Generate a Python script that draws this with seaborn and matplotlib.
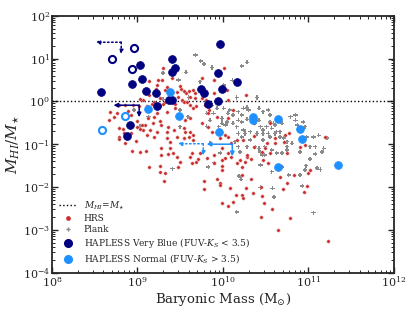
import numpy as np
import pandas as pd
import matplotlib
matplotlib.use("Agg")
import matplotlib.pyplot as plt
from matplotlib.lines import Line2D
import seaborn as sns

# log10 baryonic mass and log10 (M_HI / M_star)
hrs_logm = [9.13, 9.24, 9.29, 9.23, 9.34, 9.22, 9.14, 9.57, 9.51, 9.65, 9.62, 9.48, 9.26, 9.07, 9.17,
            9.32, 9.11, 9.02, 8.85, 8.95, 8.68, 8.76, 8.89, 8.93, 8.67, 8.91, 8.78, 9.00, 9.09, 9.07,
            8.93, 8.84, 8.78, 8.86, 9.11, 9.19, 9.23, 9.28, 9.36, 9.43, 9.54, 9.62, 9.60, 9.65, 9.34,
            9.28, 9.38, 8.94, 9.03, 9.36, 9.46, 9.61, 9.73,
            8.78, 8.72, 8.99, 9.05, 9.18, 9.26, 9.03, 9.15, 8.83, 8.78, 8.98, 9.10, 9.27, 9.26, 9.14,
            9.23, 9.12, 9.19, 9.26,
            9.32, 9.48, 9.31, 9.64, 9.71, 9.78, 9.78,
            9.99, 9.99, 9.93, 9.97, 9.97, 10.08, 9.99, 10.06, 10.12, 10.15, 10.22, 10.24, 10.27, 10.33,
            10.35, 10.44, 10.46, 10.48, 10.45, 10.57, 10.64, 10.67, 10.70, 10.75, 10.79, 10.98, 10.95,
            11.00, 11.23, 10.03, 10.10, 10.16, 10.20, 10.26, 10.28, 10.33, 10.46, 10.47, 10.53, 10.55,
            10.75,
            10.01, 9.89, 9.90, 10.27, 9.75, 9.80, 9.84, 9.79, 9.93, 10.06, 10.12, 9.83, 9.87, 10.03,
            9.97, 10.06, 10.10, 9.99, 10.06, 10.28, 10.61, 10.73, 10.90, 11.19, 10.36, 10.24, 10.16,
            9.30, 9.44, 9.41, 9.76, 9.32, 9.46, 9.50, 9.54, 9.60, 9.67, 9.52, 9.54, 9.58, 9.67, 9.62,
            9.69, 10.05, 10.06, 9.26, 9.44, 9.44, 9.19,
            9.30, 9.35, 9.34, 9.56, 9.62, 9.65, 9.83, 9.75, 9.56, 9.65, 9.54, 9.46, 9.38, 9.42, 9.64,
            9.89, 9.99, 9.89, 9.50, 9.69, 9.81, 10.22,
            10.36, 10.55, 10.77, 10.71, 10.51, 10.49, 10.61, 10.96, 11.02, 10.83, 10.36, 10.22, 9.03]
hrs_logr = [0.48, 0.50, 0.51, 0.38, 0.34, 0.28, 0.16, 0.19, 0.28, 0.27, 0.11, 0.11, 0.07, 0.03, -0.05,
            -0.01, -0.12, -0.12, -0.09, -0.09, -0.24, -0.28, -0.23, -0.33, -0.44, -0.55, -0.62, -0.59,
            -0.55, -0.67, -0.75, -0.75, -0.83, -0.97, -0.79, -0.83, -0.71, -0.55, -0.59, -0.67, -0.63,
            -0.71, -0.83, -0.90, -0.86, -1.10, -1.10, -1.15, -1.18, -1.24, -1.29, -1.29, -1.21,
            -0.09, -0.36, -0.45, -0.55, -0.51, -0.45, -0.65, -0.67, -0.65, -0.89, -0.92, -1.16, -1.25,
            -1.50, -1.53, -0.28, -0.40, -0.36, -1.64,
            -1.67, -1.54, -1.87, -1.43, -1.35, -1.87, -2.04,
            -1.51, -1.60, -1.81, -1.91, -1.95, -2.03, -2.38, -2.44, -2.34, -2.19, -2.19, -2.25, -2.03,
            -1.81, -2.13, -1.99, -2.21, -2.37, -2.69, -2.51, -3.00, -1.77, -2.05, -1.90, -2.73, -1.98,
            -2.12, -1.68, -3.27, -1.33, -1.31, -1.45, -1.37, -1.41, -1.29, -1.35, -1.18, -1.37, -1.45,
            -1.21, -1.20,
            0.79, 0.50, 0.20, 0.16, 0.07, 0.03, -0.20, -0.09, -0.36, -0.40, -0.20, -0.59, -0.71, -0.79,
            -0.86, -0.83, -0.98, -1.10, -1.21, -1.25, -0.86, -0.79, -1.06, -0.83, -0.81, -0.90, -0.90,
            0.79, 0.80, 0.54, 0.54, 0.27, 0.23, 0.36, 0.24, 0.25, 0.19, 0.03, -0.02, -0.01, 0.07, -0.09,
            -0.11, 0.27, 0.03, -0.09, -0.05, -0.16, -0.01,
            -0.05, -0.26, -0.71, -0.44, -0.40, -0.16, -0.28, -0.51, -0.71, -0.79, -0.86, -0.83, -0.94,
            -1.21, -1.21, -1.25, -1.37, -1.45, -1.41, -1.41, -1.33, -1.72,
            -0.51, -0.51, -0.75, -0.94, -0.98, -1.10, -0.98, -1.02, -1.60, -1.72, -1.06, -1.53, 0.05]

plank_logm = [9.68, 9.74, 9.48, 9.73, 9.30, 9.30, 9.60, 8.96, 9.13, 9.03, 9.50, 9.50, 9.59, 9.81, 9.81,
              9.78, 9.57, 9.87, 10.22, 10.28, 10.11, 10.01, 10.16, 10.28, 10.40, 9.41,
              10.01, 10.08, 10.12, 10.18, 10.22, 10.28, 10.42, 10.47, 10.53, 10.55, 10.44, 10.51, 10.57,
              10.67, 10.79, 10.85, 10.87, 10.96, 11.06, 11.12, 11.18, 11.02, 10.90, 10.71, 10.63, 10.55,
              10.47, 10.40, 10.32, 10.24, 10.16, 10.12, 10.05, 9.99, 9.95, 9.85, 9.89, 10.32, 10.38,
              10.28, 10.20, 10.44, 10.49, 10.57, 10.63, 10.75, 10.81, 10.55, 10.61,
              9.87, 9.93, 10.06, 10.18, 10.22, 9.99, 10.03, 10.18, 10.22, 10.14, 10.18, 9.97, 9.83, 9.85,
              10.24, 10.30, 10.42, 10.59, 10.69, 10.94, 10.85, 10.98, 11.22, 11.16, 11.08, 10.75, 10.67,
              10.61, 10.53, 10.47, 10.38, 10.26, 10.47, 10.42, 10.75, 10.44, 10.57, 10.77, 10.96, 11.10,
              10.90, 10.69,
              9.90, 10.19, 10.21, 10.16, 10.49, 10.58, 10.60, 10.97, 11.02, 11.06, 11.14, 11.08, 10.69,
              10.46, 10.93, 10.44]
plank_logr = [1.08, 0.94, 0.50, 0.46, 0.66, 0.05, 0.09, -0.20, -0.36, -0.58, -0.59, -0.20, -0.36, -0.28,
              -0.58, 0.87, 0.68, 0.79, 0.83, 0.91, 0.49, 0.38, 0.09, -0.14, 0.09, -1.57,
              -0.16, -0.20, -0.32, -0.24, -0.32, -0.42, -0.44, -0.24, -0.20, -0.32, -0.59, -0.59, -0.63,
              -0.71, -0.36, -0.32, -0.55, -0.59, -0.83, -0.79, -1.10, -1.06, -1.18, -0.86, -0.71, -0.83,
              -0.75, -0.75, -0.71, -0.67, -0.59, -0.51, -0.48, -0.51, -0.59, -0.44, -0.28, -0.90, -1.06,
              -1.06, -1.18, -1.18, -1.06, -1.14, -1.21, -1.06, -0.98, -0.48, -0.55,
              -0.09, -0.16, -0.28, -0.44, -0.48, -0.40, -0.55, -0.75, -0.83, -0.94, -1.06, -1.21, -1.53,
              -0.98, -0.16, -0.20, -0.16, -0.51, -0.51, -0.48, -0.44, -0.83, -0.86, -1.18, -1.06, -0.94,
              -0.83, -0.75, -0.75, -0.67, -0.51, -0.75, -0.90, -1.10, -1.14, -1.49, -1.64, -1.72, -1.60,
              -1.56, -1.72, -1.53,
              -1.43, -1.74, -1.82, -2.58, -1.25, -2.03, -2.23, -1.50, -1.35, -2.60, -1.59, -1.23, -1.21,
              -1.25, -1.98, -2.01]

# HAPLESS very blue (FUV-Ks < 3.5)
vblue_logm = [8.57, 9.40, 9.03, 9.44, 9.40, 9.05, 8.94, 9.10, 9.22, 9.74, 9.78, 9.37, 9.40, 9.82,
              9.23, 8.91, 8.88, 9.97, 9.94, 10.16, 9.99, 9.94]
vblue_logr = [0.21, 1.00, 0.84, 0.78, 0.69, 0.52, 0.40, 0.25, 0.20, 0.30, 0.19, 0.03, 0.03, -0.05,
              -0.12, -0.56, -0.81, 1.33, 0.66, 0.46, 0.29, 0.02]
vblue_open_logm = [8.96, 8.70, 8.94]
vblue_open_logr = [1.25, 0.98, 0.76]

# HAPLESS normal (FUV-Ks > 3.5)
normal_logm = [9.38, 9.12, 9.49, 10.35, 10.35, 10.64, 10.90, 10.92, 9.95, 10.64, 11.35]
normal_logr = [0.23, -0.19, -0.35, -0.37, -0.44, -0.42, -0.64, -0.88, -0.71, -1.54, -1.49]
normal_open_logm = [8.85, 8.59]
normal_open_logr = [-0.35, -0.67]

# limit arrows: start point, colour, solid or dotted
arrow_logm = [8.81, 9.02, 9.77, 10.11]
arrow_logr = [1.38, -0.09, -0.99, -1.00]
arrow_color = ["navy", "navy", "dodgerblue", "dodgerblue"]
arrow_ls = [":", "-", ":", "-"]

sns.set_style("ticks")
plt.rcParams["font.family"] = ["DejaVu Serif"]
plt.rcParams["mathtext.fontset"] = "dejavuserif"
plt.rcParams["xtick.direction"] = "in"
plt.rcParams["ytick.direction"] = "in"

hrs = pd.DataFrame({"mass": 10 ** np.array(hrs_logm), "ratio": 10 ** np.array(hrs_logr)})
plank = pd.DataFrame({"mass": 10 ** np.array(plank_logm), "ratio": 10 ** np.array(plank_logr)})
vblue = pd.DataFrame({"mass": 10 ** np.array(vblue_logm), "ratio": 10 ** np.array(vblue_logr)})
normal = pd.DataFrame({"mass": 10 ** np.array(normal_logm), "ratio": 10 ** np.array(normal_logr)})
vblue_open = pd.DataFrame({"mass": 10 ** np.array(vblue_open_logm), "ratio": 10 ** np.array(vblue_open_logr)})
normal_open = pd.DataFrame({"mass": 10 ** np.array(normal_open_logm), "ratio": 10 ** np.array(normal_open_logr)})

fig = plt.figure(figsize=(4.15, 3.12), dpi=100)
ax = fig.add_axes([0.1253, 0.126, 0.8237, 0.8237])

ax.axhline(1, color="black", ls=":", lw=1, zorder=1)

sns.scatterplot(data=plank, x="mass", y="ratio", ax=ax, marker="P", s=9, color="#8a8a8a",
                edgecolor="none", legend=False, zorder=2)
sns.scatterplot(data=hrs, x="mass", y="ratio", ax=ax, marker="o", s=6, color="#c83030",
                edgecolor="#f0c0c0", linewidth=0.3, legend=False, zorder=3)
sns.scatterplot(data=vblue, x="mass", y="ratio", ax=ax, marker="o", s=32, color="navy",
                edgecolor="navy", linewidth=0.5, legend=False, zorder=5)
sns.scatterplot(data=normal, x="mass", y="ratio", ax=ax, marker="o", s=32, color="dodgerblue",
                edgecolor="dodgerblue", linewidth=0.5, legend=False, zorder=5)
sns.scatterplot(data=vblue_open, x="mass", y="ratio", ax=ax, marker="o", s=26, color="white",
                edgecolor="navy", linewidth=1.5, legend=False, zorder=5)
sns.scatterplot(data=normal_open, x="mass", y="ratio", ax=ax, marker="o", s=26, color="white",
                edgecolor="dodgerblue", linewidth=1.5, legend=False, zorder=5)

# upper-limit arrows (left in mass, down in ratio)
for lm, lr, c, ls in zip(arrow_logm, arrow_logr, arrow_color, arrow_ls):
    props = dict(arrowstyle="-|>", color=c, ls=ls, lw=1.1, mutation_scale=6,
                 shrinkA=0, shrinkB=0)
    ax.annotate("", xy=(10 ** (lm - 0.30), 10 ** lr), xytext=(10 ** lm, 10 ** lr),
                arrowprops=props, zorder=4)
    ax.annotate("", xy=(10 ** lm, 10 ** (lr - 0.28)), xytext=(10 ** lm, 10 ** lr),
                arrowprops=props, zorder=4)

ax.set_xscale("log")
ax.set_yscale("log")
ax.set_xlim(1e8, 1e12)
ax.set_ylim(1e-4, 1e2)
ax.tick_params(which="both", top=True, right=True, labelsize=8)
ax.tick_params(which="major", length=4.5, width=1, pad=1.5)
ax.tick_params(which="minor", length=2.2, width=0.7)
for sp in ax.spines.values():
    sp.set_linewidth(1.3)

ax.set_xlabel(r"Baryonic Mass (M$_{\odot}$)", fontsize=9.5, labelpad=1)
ax.set_ylabel(r"$M_{HI}/M_{\star}$", fontsize=11, labelpad=1)

handles = [
    Line2D([], [], color="black", ls=":", lw=1),
    Line2D([], [], ls="", marker="o", ms=2.4, color="#c83030"),
    Line2D([], [], ls="", marker="P", ms=3, color="#8a8a8a", mec="none"),
    Line2D([], [], ls="", marker="o", ms=5.5, color="navy"),
    Line2D([], [], ls="", marker="o", ms=5.5, color="dodgerblue"),
]
labels = [
    r"$M_{HI}\!=\!M_{\star}$",
    "HRS",
    "Plank",
    r"HAPLESS Very Blue (FUV-$K_S$ < 3.5)",
    r"HAPLESS Normal (FUV-$K_S$ > 3.5)",
]
ax.legend(handles, labels, loc="lower left", frameon=False, fontsize=6.5,
          labelspacing=0.25, handletextpad=0.7, handlelength=2.0, borderaxespad=0.4)

fig.savefig("out.png", dpi=100)
